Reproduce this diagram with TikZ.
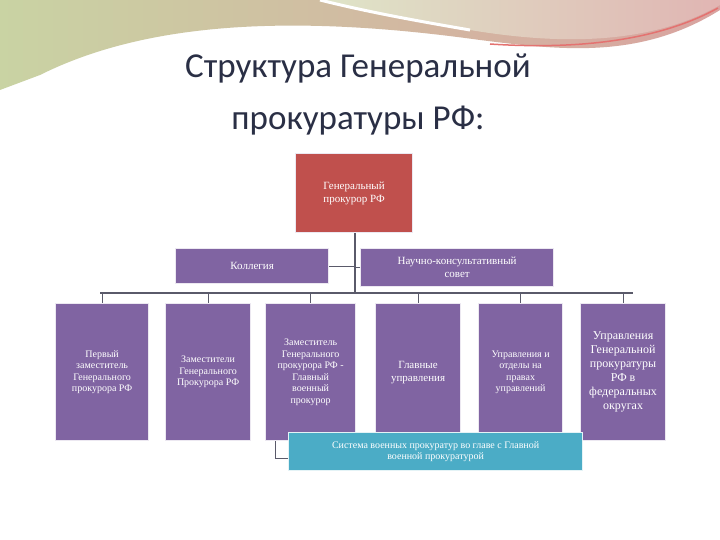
\documentclass[tikz,border=0pt]{standalone}
\usepackage{fontspec}
\setmainfont{Liberation Serif}
\newfontfamily\titlefont{Carlito}
\definecolor{pur}{HTML}{8064A2}
\definecolor{redb}{HTML}{C0504D}
\definecolor{cyanb}{HTML}{4BACC6}
\definecolor{pinkw}{HTML}{D9A3A0}
\definecolor{greenw}{HTML}{C9D3A3}
\definecolor{linec}{HTML}{5A5A6A}
\definecolor{titlec}{HTML}{2A2F45}
\begin{document}
\begin{tikzpicture}[x=1pt,y=-1pt,
  box/.style={draw=white!85!pur,line width=1.2pt,fill=pur,text=white,align=center,font=\fontsize{10}{11.5}\selectfont,inner sep=2pt,anchor=north west},
  conn/.style={draw=linec,line width=1.2pt}]
\useasboundingbox (0,0) rectangle (720,540);
\fill[white] (0,0) rectangle (720,540);
% top decoration
\shade[left color=greenw,right color=pinkw] (0,0) -- (720,0) -- (720,10) .. controls (640,60) and (560,50) .. (480,40) .. controls (300,15) and (150,20) .. (40,75) -- (0,90) -- cycle;
\shade[left color=greenw!60!white,right color=pinkw!80!white] (320,0) -- (720,0) -- (720,5) .. controls (650,45) and (560,45) .. (470,30) .. controls (400,18) and (360,10) .. (320,0) -- cycle;
\draw[white,line width=3pt] (320,0) .. controls (360,10) and (400,18) .. (470,30);
\draw[pinkw!70!red,line width=1.5pt] (490,44) .. controls (580,50) and (660,40) .. (718,8);
% title
\node[font=\titlefont\fontsize{35}{52}\selectfont,text=titlec,align=center] (title) at (358,95) {Структура Генеральной\\прокуратуры РФ:};
% nodes
\node[box,fill=redb,minimum width=117pt,minimum height=79pt,font=\fontsize{11}{13}\selectfont] (gp) at (295,153) {Генеральный\\прокурор РФ};
\node[box,minimum width=153pt,minimum height=35pt,font=\fontsize{11}{13}\selectfont] (kol) at (175,248) {Коллегия};
\node[box,minimum width=193pt,minimum height=38pt,font=\fontsize{11}{13}\selectfont] (nks) at (360,248) {Научно-консультативный\\совет};
\node[box,minimum width=93pt,minimum height=137pt] (b1) at (55,303) {Первый\\заместитель\\Генерального\\прокурора РФ};
\node[box,minimum width=85pt,minimum height=137pt] (b2) at (165,303) {Заместители\\Генерального\\Прокурора РФ};
\node[box,minimum width=90pt,minimum height=137pt] (b3) at (265,303) {Заместитель\\Генерального\\прокурора РФ -\\Главный\\военный\\прокурор};
\node[box,minimum width=85pt,minimum height=137pt,font=\fontsize{11}{13}\selectfont] (b4) at (375,303) {Главные\\управления};
\node[box,minimum width=84pt,minimum height=137pt] (b5) at (478,303) {Управления и\\отделы на\\правах\\управлений};
\node[box,minimum width=85pt,minimum height=137pt,font=\fontsize{12}{14}\selectfont] (b6) at (580,303) {Управления\\Генеральной\\прокуратуры\\РФ в\\федеральных\\округах};
\node[box,fill=cyanb,draw=white!85!cyanb,minimum width=294pt,minimum height=38pt] (sys) at (288,432) {Система военных прокуратур во главе с Главной\\военной прокуратурой};
% connectors
\coordinate (bus) at (355,293);
\draw[conn] (gp.south -| bus) -- (bus);
\draw[conn] (kol.east) -- (kol.east -| bus);
\draw[conn] (nks.west) -- (nks.west -| bus);
\draw[conn] (100,293) -- (633,293);
\foreach \b in {b1,b2,b3,b4,b5,b6}{\draw[conn,line width=0.8pt] (\b.north |- bus) -- (\b.north);}
\coordinate (bend) at (275,458);
\draw[conn,line width=0.8pt] (b3.south west) ++(10,0) coordinate (s3) (s3) -- (bend) -- (bend -| sys.west);
\end{tikzpicture}
\end{document}
